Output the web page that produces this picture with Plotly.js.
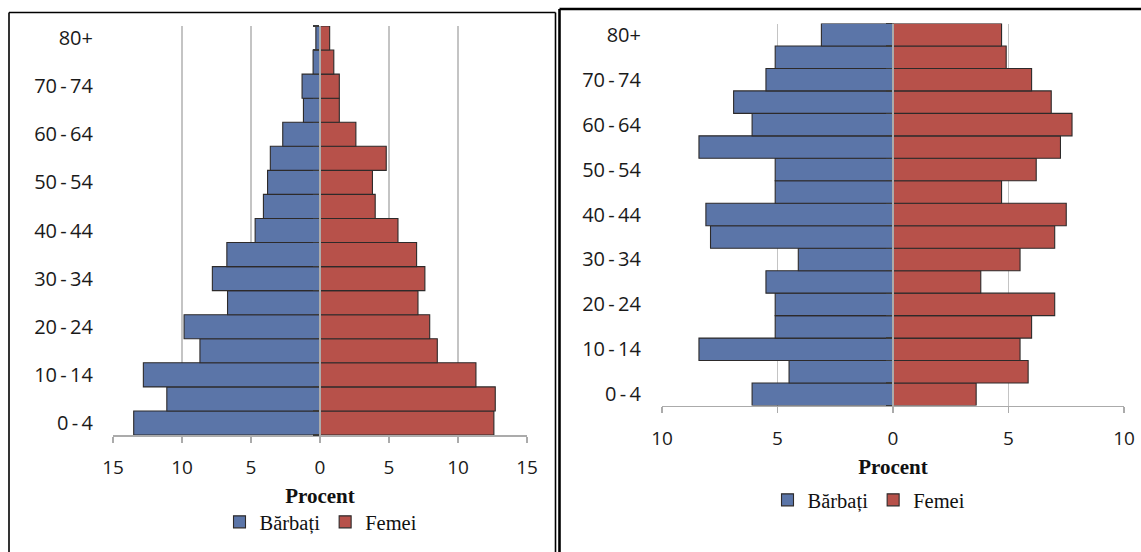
<!DOCTYPE html>
<html>
<head>
<meta charset="utf-8">
<script src="https://cdn.plot.ly/plotly-3.0.1.min.js"></script>
<style>
  html, body { margin: 0; padding: 0; background: #ffffff; }
  #chart { width: 1141px; height: 552px; }
</style>
</head>
<body>
<div id="chart"></div>
<script>
// Age groups, youngest first (bottom of each pyramid); thin spaces around the dash
const ageGroups = ['0\u2009-\u20094', '5\u2009-\u20099', '10\u2009-\u200914', '15\u2009-\u200919', '20\u2009-\u200924',
  '25\u2009-\u200929', '30\u2009-\u200934', '35\u2009-\u200939', '40\u2009-\u200944', '45\u2009-\u200949',
  '50\u2009-\u200954', '55\u2009-\u200959', '60\u2009-\u200964', '65\u2009-\u200969', '70\u2009-\u200974',
  '75\u2009-\u200979', '80+'];
// Only every other group carries a label on the axis
const labeledGroups = ['0\u2009-\u20094', '10\u2009-\u200914', '20\u2009-\u200924', '30\u2009-\u200934',
  '40\u2009-\u200944', '50\u2009-\u200954', '60\u2009-\u200964', '70\u2009-\u200974', '80+'];

const seriesNames = ['Bărbați', 'Femei'];

// Left pyramid, percent of population
const menLeft   = [13.5, 11.1, 12.8, 8.7, 9.85, 6.7, 7.8, 6.75, 4.7, 4.1, 3.8, 3.6, 2.7, 1.2, 1.3, 0.5, 0.3];
const womenLeft = [12.6, 12.7, 11.3, 8.5, 7.95, 7.1, 7.6, 7.0, 5.65, 4.0, 3.8, 4.8, 2.6, 1.4, 1.4, 1.0, 0.7];

// Right pyramid, percent of population
const menRight   = [6.1, 4.5, 8.4, 5.1, 5.1, 5.5, 4.1, 7.9, 8.1, 5.1, 5.1, 8.4, 6.1, 6.9, 5.5, 5.1, 3.1];
const womenRight = [3.6, 5.85, 5.5, 6.0, 7.0, 3.8, 5.5, 7.0, 7.5, 4.7, 6.2, 7.25, 7.75, 6.85, 6.0, 4.9, 4.7];

// Tick values of the two percent axes (men to the left of zero)
const leftTickVals  = [-15, -10, -5, 0, 5, 10, 15];
const rightTickVals = [-10, -5, 0, 5, 10];
const xTitle = 'Procent';

// ---- page geometry (pixels of the 1141 x 552 canvas) ----
const W = 1141, H = 552;
const fx = p => p / W;            // pixel x -> paper x
const fy = p => 1 - p / H;        // pixel y -> paper y

const BLUE = '#5b75a8';
const RED = '#b7514a';
const OUTLINE = '#2d2a2a';
const GRID = '#c4c4c4';
const AXIS = '#ababab';

const leftDom  = [fx(113), fx(527)];
const rightDom = [fx(662), fx(1124)];
const leftYDom  = [fy(435), fy(26)];
const rightYDom = [fy(405.5), fy(23.5)];
const leftRange = [-15, 15], rightRange = [-10, 10];

function zeroPos(dom, rng) {
  return dom[0] + (0 - rng[0]) / (rng[1] - rng[0]) * (dom[1] - dom[0]);
}
const absText = v => String(Math.abs(v));

function barTrace(values, sign, name, color, xa, ya, leg) {
  return {
    type: 'bar', orientation: 'h',
    y: ageGroups, x: values.map(v => sign * v),
    name: name, xaxis: xa, yaxis: ya, legend: leg,
    marker: { color: color, line: { color: OUTLINE, width: 1.1 } },
    hoverinfo: 'skip'
  };
}

const data = [
  barTrace(menLeft, -1, seriesNames[0], BLUE, 'x', 'y', 'legend'),
  barTrace(womenLeft, 1, seriesNames[1], RED, 'x', 'y', 'legend'),
  barTrace(menRight, -1, seriesNames[0], BLUE, 'x2', 'y2', 'legend2'),
  barTrace(womenRight, 1, seriesNames[1], RED, 'x2', 'y2', 'legend2')
];

const xTickFont = { family: 'Open Sans, sans-serif', size: 19, color: '#1a1a1a' };
const yTickFont = { family: 'Open Sans, sans-serif', size: 20, color: '#1a1a1a' };
const titleFont = { family: 'Liberation Serif, serif', size: 21, color: '#111111', weight: 'bold' };
const legendFont = { family: 'Liberation Serif, serif', size: 20.5, color: '#111111' };

function xAxis(dom, rng, tickvals, anchor) {
  return {
    domain: dom, range: rng, anchor: anchor, fixedrange: true,
    tickmode: 'array', tickvals: tickvals, ticktext: tickvals.map(absText),
    showgrid: true, gridcolor: GRID, gridwidth: 1.6,
    zeroline: false,
    showline: true, linecolor: AXIS, linewidth: 1.6,
    ticks: 'outside', ticklen: 6, tickwidth: 1.4, tickcolor: AXIS,
    tickfont: xTickFont, ticklabelstandoff: 9,
    title: { text: xTitle, font: titleFont, standoff: 9 }
  };
}

function yAxis(dom, pos, standoff) {
  return {
    domain: dom, type: 'category', categoryarray: ageGroups, range: [-0.5, ageGroups.length - 0.5],
    anchor: 'free', position: pos, side: 'left', fixedrange: true,
    tickmode: 'array', tickvals: ageGroups,
    ticktext: ageGroups.map(g => labeledGroups.includes(g) ? g : ''),
    tickson: 'boundaries', ticks: 'outside', ticklen: 6, tickwidth: 1.2, tickcolor: '#3a3a3a',
    showline: true, linecolor: AXIS, linewidth: 2.4, layer: 'above traces',
    showgrid: false, zeroline: false,
    tickfont: yTickFont, ticklabelstandoff: standoff
  };
}

const lx = zeroPos(leftDom, leftRange);
const rx = zeroPos(rightDom, rightRange);

// Frames around the two panels
const frame = (x0, y0, x1, y1, w) => ({
  type: 'line', xref: 'paper', yref: 'paper',
  x0: fx(x0), y0: fy(y0), x1: fx(x1), y1: fy(y1),
  line: { color: '#000000', width: w }
});

const layout = {
  width: W, height: H, autosize: false,
  margin: { l: 0, r: 0, t: 0, b: 0, pad: 0 },
  paper_bgcolor: '#ffffff', plot_bgcolor: 'rgba(0,0,0,0)',
  font: { family: 'Open Sans, sans-serif', color: '#1a1a1a' },
  barmode: 'relative', bargap: 0,
  xaxis: xAxis(leftDom, leftRange, leftTickVals, 'y'),
  yaxis: yAxis(leftYDom, lx, 222),
  xaxis2: xAxis(rightDom, rightRange, rightTickVals, 'y2'),
  yaxis2: yAxis(rightYDom, rx, 247),
  legend: {
    orientation: 'h', x: fx(321), xanchor: 'center', y: fy(522), yanchor: 'middle',
    font: legendFont, bgcolor: 'rgba(0,0,0,0)', itemclick: false, itemdoubleclick: false
  },
  legend2: {
    orientation: 'h', x: fx(869), xanchor: 'center', y: fy(500), yanchor: 'middle',
    font: legendFont, bgcolor: 'rgba(0,0,0,0)', itemclick: false, itemdoubleclick: false
  },
  shapes: [
    frame(9, 12.5, 555.5, 12.5, 1.6),
    frame(9, 12.5, 9, 552, 1.6),
    frame(555.5, 12.5, 555.5, 552, 1.6),
    frame(559.5, 9, 1141, 9, 2.6),
    frame(559.5, 9, 559.5, 552, 2.6)
  ]
};

Plotly.newPlot('chart', data, layout, { displayModeBar: false, staticPlot: true });
</script>
</body>
</html>
